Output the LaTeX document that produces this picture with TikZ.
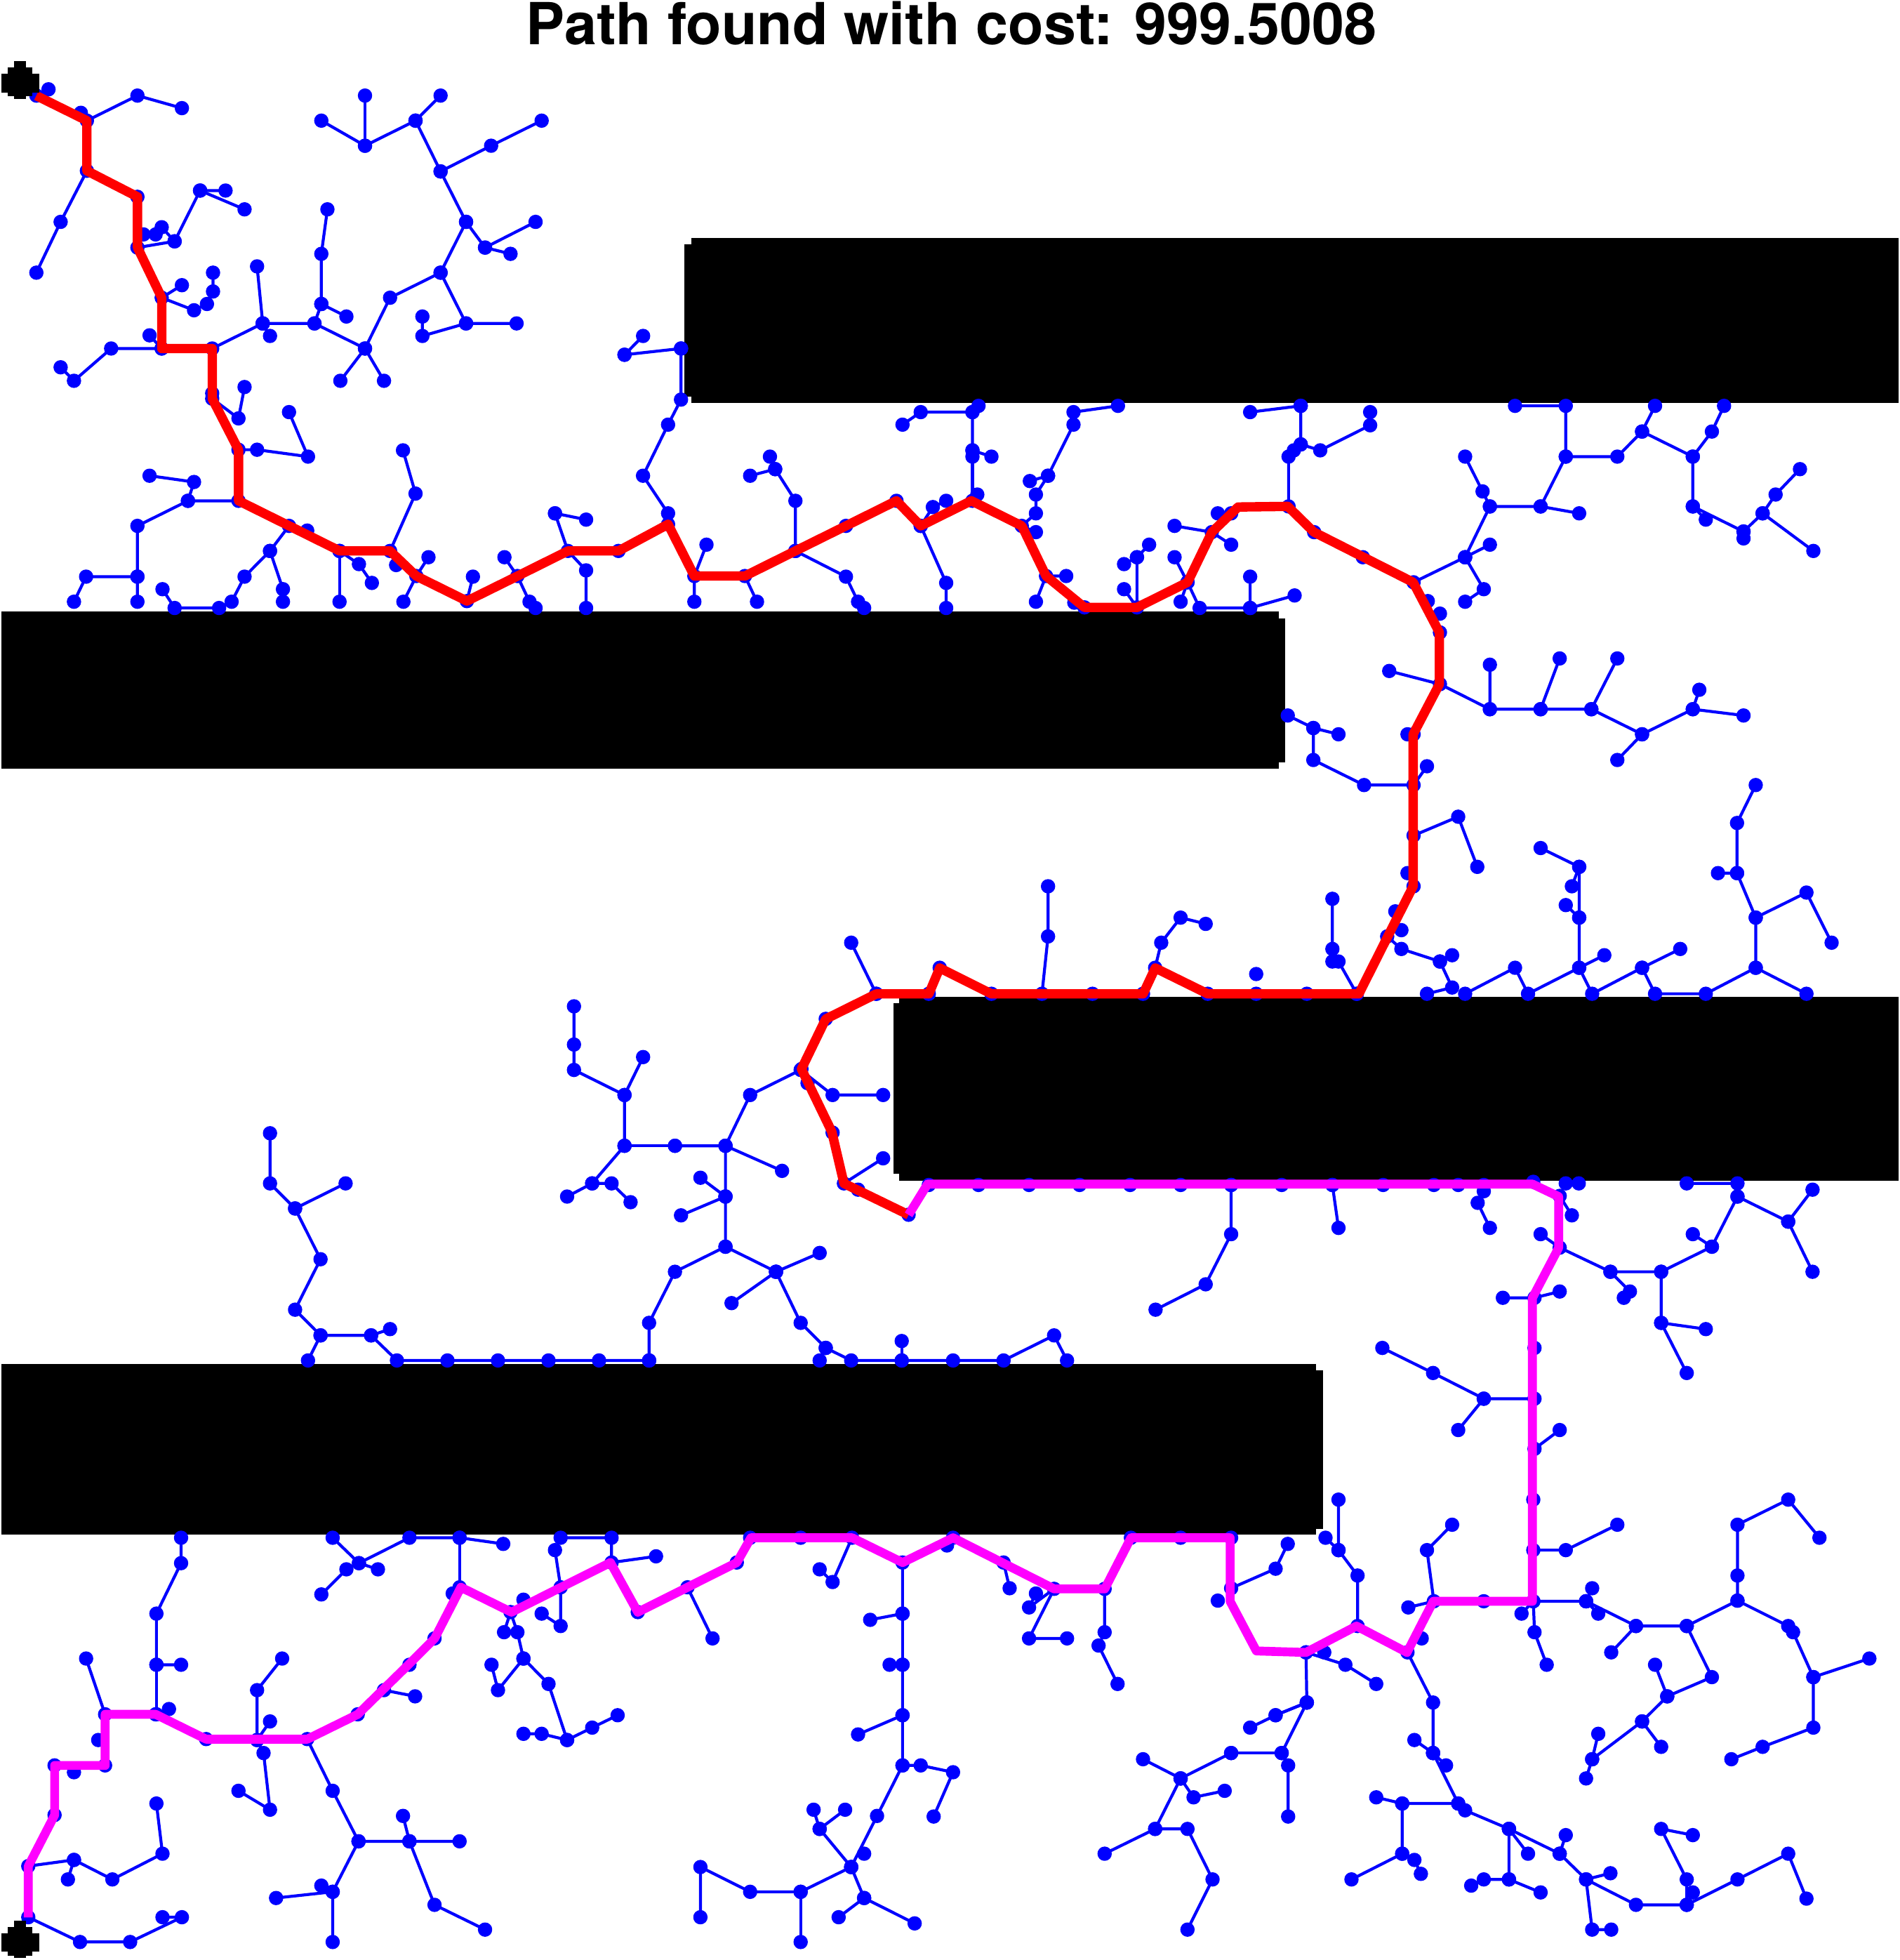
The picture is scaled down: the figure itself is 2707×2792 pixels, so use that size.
\documentclass[tikz,border=0pt]{standalone}
\usepackage{fontspec}
\setmainfont{TeX Gyre Heros}
\definecolor{treeblue}{RGB}{0,0,255}
\definecolor{pathred}{RGB}{255,0,0}
\definecolor{pathmag}{RGB}{255,0,255}
\tikzset{
  treeln/.style={color=treeblue, line width=0.6pt, mark=*, mark size=1.15pt, line join=round},
  redp/.style={draw=pathred, line width=1.9pt, line join=round},
  magp/.style={draw=pathmag, line width=1.8pt, line join=round},
  obst/.style={fill=black, draw=none},
  marker/.style={fill=black, draw=none}
}
\newcommand\tedge[1]{\draw[treeln] plot coordinates {#1};}
\begin{document}
\begin{tikzpicture}[x=0.05mm,y=-0.05mm]
\useasboundingbox (0,0) rectangle (2707,2792);
\fill[white] (0,0) rectangle (2707,2792);
% obstacles (displayed coords)
\begin{scope}[x=0.08905mm,y=-0.08905mm]
\fill[obst] (552.8,190.5) rectangle (1518.5,322.2);
\fill[obst] (547.3,195.5) rectangle (553,317);
\fill[obst] (1,489) rectangle (1023,615);
\fill[obst] (1022,494.5) rectangle (1027.8,609.9);
\fill[obst] (719.4,797.4) rectangle (1518.5,944.1);
\fill[obst] (714.5,802.4) rectangle (720,939);
\fill[obst] (1,1090.7) rectangle (1052.7,1227.3);
\fill[obst] (1052,1095.7) rectangle (1058.2,1223);
\node[font=\fontsize{11.75}{14}\selectfont\bfseries, anchor=base, inner sep=0pt] (title) at (761,35.6) {Path found with cost: 999.5008};
\end{scope}
% ---------- crop 1 (col0,row0)
\begin{scope}[shift={(0,0)},x=0.028795mm,y=-0.022321mm]
\tedge{(120,285)(90,305)}
\tedge{(200,360)}
\tedge{(215,385)(340,305)(450,345)}
\tedge{(215,545)(150,708)(90,870)}
\tedge{(340,790)(432,770)(495,608)(558,608)}
\tedge{(495,608)(605,668)}
\tedge{(432,770)(400,725)}
\tedge{(355,748)} \tedge{(385,748)} \tedge{(340,628)}
\tedge{(450,910)(400,950)(480,990)(512,970)(527,930)(527,870)}
\tedge{(400,1112)(275,1112)(183,1215)(150,1172)}
\tedge{(370,1070)(400,1112)}
\tedge{(525,1112)(650,1032)(778,1032)(795,970)(795,810)(810,668)}
\tedge{(650,1032)(636,850)}
\tedge{(650,1032)(668,1072)}
\tedge{(795,970)(857,1010)}
\tedge{(778,1032)(903,1112)(965,950)(1090,870)(1153,708)(1090,547)(1028,385)(903,465)(795,385)}
\tedge{(903,465)(903,305)}
\tedge{(1028,385)(1090,305)}
\tedge{(1090,547)(1215,465)(1340,385)}
\tedge{(1153,708)(1200,790)(1325,708)}
\tedge{(1200,790)(1263,810)}
\tedge{(1090,870)(1153,1032)(1278,1032)}
\tedge{(1153,1032)(1045,1072)(1045,1010)}
\tedge{(842,1215)(903,1112)(950,1215)}
\tedge{(525,1255)}
\tedge{(525,1272)(590,1335)(605,1235)}
\tedge{(590,1435)(636,1435)(762,1457)(715,1315)}
\tedge{(370,1518)(480,1538)(465,1598)(590,1598)}
\tedge{(997,1437)(1028,1575)(965,1758)}
\tedge{(1545,1132)(1685,1112)}
\tedge{(1545,1132)(1591,1072)}
\end{scope}
% ---------- crop 2 (col1,row0)
\begin{scope}[shift={(900,0)},x=0.028795mm,y=-0.022321mm]
\tedge{(122,1112)(122,1275)(90,1355)(28,1518)(90,1638)(90,1673)}
\tedge{(670,1355)(715,1315)(843,1315)(858,1295)}
\tedge{(843,1315)(843,1437)(890,1457)}
\tedge{(843,1437)(843,1457)(843,1598)}
\tedge{(342,1457)(355,1497)(405,1598)(405,1758)}
\tedge{(293,1518)(355,1497)}
\tedge{(1203,1295)(1093,1315)(1093,1355)(1030,1518)(985,1535)}
\tedge{(1030,1518)(1000,1578)(1000,1638)(965,1678)(1000,1698)}
\tedge{(1530,1315)(1655,1295)}
\end{scope}
% ---------- crop 3 (col2,row0)
\begin{scope}[shift={(1800,0)},x=0.028922mm,y=-0.022321mm]
\tedge{(92,1295)(92,1418)(140,1437)(263,1357)(263,1315)}
\tedge{(92,1418)(75,1437)(62,1457)(62,1616)}
\tedge{(497,1457)(540,1568)(558,1616)(683,1616)(745,1457)(745,1295)(620,1295)}
\tedge{(683,1616)(778,1638)}
\tedge{(745,1457)(872,1457)(933,1377)(965,1295)}
\tedge{(933,1377)(1058,1457)(1105,1377)(1135,1295)}
\tedge{(1058,1457)(1058,1616)(1183,1696)(1183,1718)}
\tedge{(1058,1616)(1090,1658)}
\tedge{(1322,1497)(1262,1578)(1230,1638)(1183,1696)}
\tedge{(1230,1638)(1355,1758)}
\end{scope}
% ---------- crop 4 (col0,row1)
\begin{scope}[shift={(0,700)},x=0.028795mm,y=-0.022321mm]
\tedge{(465,30)(340,110)(340,272)(340,352)}
\tedge{(340,272)(213,272)(183,352)}
\tedge{(402,312)(432,372)(542,372)(573,352)(605,272)(668,190)(715,110)}
\tedge{(668,190)(700,312)(700,352)}
\tedge{(760,125)}
\tedge{(840,190)(840,352)}
\tedge{(840,190)(888,232)(920,292)}
\tedge{(980,235)}
\tedge{(1060,210)(1030,270)(998,352)}
\tedge{(1155,350)(1170,272)}
\tedge{(1248,210)(1280,270)(1310,352)(1325,372)}
\tedge{(1373,70)(1450,90)}
\tedge{(1373,70)(1405,190)(1450,252)(1450,372)}
\tedge{(1530,190)}
\end{scope}
% ---------- crop 5 (col1,row1)
\begin{scope}[shift={(900,700)},x=0.028795mm,y=-0.022321mm]
\tedge{(185,170)(155,270)(155,352)}
\tedge{(280,270)(310,352)}
\tedge{(405,190)(530,272)(560,352)(575,372)}
\tedge{(530,110)} \tedge{(655,30)}
\tedge{(715,110)(745,50)(778,30)}
\tedge{(715,110)(778,292)(778,372)}
\tedge{(855,10)}
\tedge{(1075,270)(1025,270)(1000,352)}
\tedge{(1095,355)} \tedge{(1120,370)}
\tedge{(1218,312)(1250,370)(1250,210)(1280,170)}
\tedge{(1218,232)(1250,210)}
\tedge{(1343,210)(1375,290)(1358,352)}
\tedge{(1375,290)(1405,372)(1530,372)(1530,272)}
\tedge{(1530,372)(1640,332)}
\tedge{(1343,110)(1435,130)(1483,170)}
\tedge{(1450,70)} \tedge{(1483,70)}
\tedge{(1030,1260)(1030,1420)(1015,1603)}
\tedge{(543,1440)(605,1603)}
\tedge{(1420,1380)(1358,1360)(1310,1440)(1295,1520)}
\tedge{(762,1520)} \tedge{(1545,1540)}
\end{scope}
% ---------- crop 6 (col2,row1)
\begin{scope}[shift={(1800,700)},x=0.028922mm,y=-0.022321mm]
\tedge{(558,48)(497,210)(370,290)}
\tedge{(497,210)(558,170)}
\tedge{(497,210)(543,312)(497,352)}
\tedge{(245,210)} \tedge{(125,130)} \tedge{(405,350)} \tedge{(435,390)} \tedge{(435,450)}
\tedge{(310,573)(435,615)(558,695)(558,553)}
\tedge{(558,695)(683,695)(730,533)}
\tedge{(683,695)(808,695)(872,533)}
\tedge{(808,695)(933,775)(872,857)}
\tedge{(933,775)(1058,695)(1074,633)}
\tedge{(1058,695)(1183,715)}
\tedge{(355,775)} \tedge{(370,775)}
\tedge{(60,715)(123,755)(185,775)}
\tedge{(123,755)(123,857)(248,937)(370,937)(403,877)}
\tedge{(370,1098)(480,1038)(527,1198)}
\tedge{(355,1218)} \tedge{(370,1260)}
\tedge{(683,1138)(778,1198)(760,1260)}
\tedge{(778,1198)(778,1360)(745,1320)}
\tedge{(778,1360)(778,1520)(840,1480)}
\tedge{(1027,1460)(933,1520)(810,1603)(778,1520)(652,1603)(620,1520)(497,1603)}
\tedge{(933,1520)(965,1603)(1090,1603)(1213,1520)(1338,1603)}
\tedge{(1213,1520)(1213,1360)(1338,1280)(1400,1440)}
\tedge{(1213,1360)(1167,1218)(1120,1218)}
\tedge{(1167,1218)(1167,1058)(1213,937)}
\tedge{(170,1300)(170,1460)(185,1500)(230,1603)}
\tedge{(170,1500)}
\tedge{(325,1340)} \tedge{(340,1400)}
\tedge{(305,1420)(340,1460)(435,1500)(465,1480)}
\tedge{(435,1500)(465,1583)(403,1603)}
\end{scope}
% ---------- crop 7 (col0,row2)
\begin{scope}[shift={(0,1400)},x=0.028795mm,y=-0.022321mm]
\tedge{(668,480)(668,640)(730,720)(855,640)}
\tedge{(730,720)(793,882)(730,1043)(793,1125)(918,1125)(965,1105)}
\tedge{(793,1125)(762,1205)}
\tedge{(918,1125)(982,1205)(1107,1205)(1232,1205)(1357,1205)(1482,1205)(1606,1205)}
\tedge{(1420,75)(1420,197)(1420,278)(1545,358)(1545,520)(1465,640)(1403,682)}
\tedge{(1465,640)(1513,640)(1560,700)}
\tedge{(1545,358)(1591,237)}
\tedge{(1545,520)(1670,520)}
\end{scope}
% ---------- crop 8 (col1,row2)
\begin{scope}[shift={(900,1400)},x=0.028795mm,y=-0.022321mm]
\tedge{(107,520)(232,520)(293,358)(418,278)(497,358)(622,358)}
\tedge{(232,520)(372,600)}
\tedge{(232,520)(232,682)(170,622)}
\tedge{(232,682)(122,742)}
\tedge{(232,682)(232,842)(107,922)(43,1085)(43,1205)}
\tedge{(232,842)(357,922)(465,862)}
\tedge{(357,922)(247,1022)}
\tedge{(357,922)(418,1085)(480,1165)(543,1205)(668,1205)(795,1205)(920,1205)(1045,1125)(1077,1205)}
\tedge{(668,1205)(668,1143)}
\tedge{(480,1165)(465,1205)}
\tedge{(435,320)} \tedge{(497,478)}
\tedge{(525,640)(622,560)} \tedge{(560,660)} \tedge{(685,740)}
\tedge{(735,645)(858,645)(983,645)(1108,645)(1233,645)(1358,645)(1483,645)}
\tedge{(1483,645)(1483,802)(1420,962)(1296,1043)}
\tedge{(605,35)} \tedge{(735,35)} \tedge{(890,35)} \tedge{(1140,35)} \tedge{(1265,35)} \tedge{(1425,35)} \tedge{(1545,35)}
\tedge{(480,115)} \tedge{(420,275)}
\end{scope}
% ---------- crop 9 (col2,row2)
\begin{scope}[shift={(1800,1400)},x=0.028922mm,y=-0.022321mm]
\tedge{(107,35)} \tedge{(230,35)}
\tedge{(45,645)(170,645)(295,645)(420,645)(480,645)(543,645)(665,635)}
\tedge{(170,645)(185,782)}
\tedge{(543,665)(528,702)(558,782)}
\tedge{(745,640)} \tedge{(777,640)}
\tedge{(730,680)(760,742)}
\tedge{(683,802)(730,845)(855,922)(980,922)(1105,842)(1168,682)(1168,640)(1043,640)}
\tedge{(855,922)(903,985)(888,1005)}
\tedge{(980,922)(980,1085)(1090,1105)}
\tedge{(980,1085)(1043,1245)}
\tedge{(1105,842)(1058,802)}
\tedge{(1168,682)(1293,762)(1353,660)}
\tedge{(1293,762)(1353,922)}
\tedge{(590,1005)(668,1005)(730,985)}
\tedge{(668,1165)}
\tedge{(293,1165)(418,1245)(543,1327)(668,1327)}
\tedge{(543,1327)(480,1427)}
\tedge{(668,1487)(730,1427)}
\end{scope}
% ---------- crop 10 (col0,row3)
\begin{scope}[shift={(0,2100)},x=0.028795mm,y=-0.022066mm]
\tedge{(448,205)(448,287)(387,450)(387,615)(448,615)}
\tedge{(387,615)(387,775)} \tedge{(418,758)}
\tedge{(213,595)(260,775)} \tedge{(243,858)} \tedge{(183,962)} \tedge{(135,1100)} \tedge{(135,940)} \tedge{(260,940)}
\tedge{(823,205)(888,287)(1013,205)(1137,205)(1245,225)}
\tedge{(1137,205)(1137,365)} \tedge{(1120,385)}
\tedge{(935,307)(888,287)(857,307)(795,388)}
\tedge{(1387,205)(1513,205)(1513,285)(1623,265)}
\tedge{(1373,245)(1387,365)(1387,490)(1340,450)}
\tedge{(1247,510)(1263,445)(1280,510)(1295,595)(1232,697)(1216,615)}
\tedge{(1295,595)(1357,677)(1403,858)(1465,818)(1528,778)}
\tedge{(1403,858)(1340,838)(1295,838)}
\tedge{(1295,405)}
\tedge{(1075,530)} \tedge{(1013,615)}
\tedge{(950,697)(1027,717)}
\tedge{(885,775)}
\tedge{(760,855)(823,1022)(887,1185)(1013,1185)(1137,1185)}
\tedge{(1013,1185)(997,1103)}
\tedge{(1013,1185)(1075,1390)(1200,1470)}
\tedge{(887,1185)(823,1348)(683,1368)}
\tedge{(795,1328)(823,1348)(823,1510)}
\tedge{(698,595)(636,697)(636,858)(652,900)(668,1083)(590,1022)}
\tedge{(636,858)(668,798)}
\tedge{(510,855)}
\tedge{(70,1265)(183,1245)(278,1308)(402,1225)(387,1063)}
\tedge{(183,1245)(168,1308)}
\tedge{(70,1430)(198,1510)(322,1510)(450,1430)(402,1430)}
\tedge{(385,775)}
\end{scope}
% ---------- crop 11 (col1,row3)
\begin{scope}[shift={(900,2100)},x=0.028795mm,y=-0.022066mm]
\tedge{(293,205)} \tedge{(418,205)} \tedge{(795,205)} \tedge{(1235,205)} \tedge{(1358,205)} \tedge{(1483,205)} \tedge{(260,285)}
\tedge{(138,365)(200,530)}
\tedge{(465,307)(497,348)(545,205)}
\tedge{(670,285)(670,450)(590,470)}
\tedge{(670,450)(670,615)(638,615)}
\tedge{(670,615)(670,778)(560,840)}
\tedge{(670,778)(670,940)(715,940)(795,962)(747,1105)}
\tedge{(670,940)(607,1103)(543,1268)(465,1145)(450,1083)}
\tedge{(465,1145)(528,1083)}
\tedge{(575,1225)}
\tedge{(543,1268)(418,1348)(293,1348)(170,1268)(170,1430)}
\tedge{(418,1348)(418,1510)}
\tedge{(543,1268)(575,1368)(700,1450)}
\tedge{(575,1368)(512,1430)}
\tedge{(780,230)}
\tedge{(920,285)(935,368)}
\tedge{(1000,385)(983,430)(1045,370)(983,530)(1077,530)}
\tedge{(1170,370)(1170,510)(1155,553)(1202,677)}
\tedge{(1483,368)(1593,305)(1623,225)}
\tedge{(1450,408)}
\tedge{(1530,818)(1593,778)(1670,737)}
\tedge{(1483,900)(1608,900)}
\tedge{(1483,900)(1358,982)(1265,920)}
\tedge{(1358,982)(1390,1043)(1467,1022)}
\tedge{(1358,982)(1295,1145)(1375,1145)(1437,1308)(1375,1470)}
\tedge{(1295,1145)(1170,1225)}
\tedge{(15,445)}
\end{scope}
% ---------- crop 12 (col2,row3)
\begin{scope}[shift={(1800,2100)},x=0.028922mm,y=-0.022066mm]
\tedge{(185,82)(185,245)(153,205)}
\tedge{(185,245)(232,327)(232,490)}
\tedge{(150,575)} \tedge{(390,530)}
\tedge{(105,575)(202,615)(278,677)}
\tedge{(105,575)(107,737)(30,778)}
\tedge{(107,737)(45,900)(61,940)(61,1105)}
\tedge{(355,575)(418,737)(418,900)(372,858)}
\tedge{(418,900)(450,940)}
\tedge{(418,900)(480,1063)(497,1085)(605,1145)(730,1225)(795,1308)(918,1390)(1043,1390)(1168,1308)(1293,1225)(1338,1370)}
\tedge{(480,1063)(342,1063)(278,1043)}
\tedge{(342,1063)(342,1225)(217,1308)}
\tedge{(342,1225)(372,1245)(388,1290)}
\tedge{(605,1145)(652,1225)}
\tedge{(605,1145)(605,1308)(543,1308)(512,1328)}
\tedge{(605,1308)(683,1350)}
\tedge{(730,1225)(745,1165)}
\tedge{(855,1288)(795,1308)(810,1470)(857,1470)}
\tedge{(1043,1390)(1043,1308)(980,1145)(1058,1165)}
\tedge{(1058,1350)}
\tedge{(465,163)(403,245)(420,410)(357,430)}
\tedge{(543,410)}
\tedge{(636,450)(665,410)(668,510)(698,615)}
\tedge{(665,410)(795,410)(810,368)}
\tedge{(795,410)(825,450)}
\tedge{(795,410)(918,490)(1043,490)(1168,408)(1168,327)(1168,163)(1293,82)(1370,205)}
\tedge{(918,490)(857,575)}
\tedge{(1043,490)(1105,655)(995,717)(965,615)}
\tedge{(995,717)(933,798)(980,880)}
\tedge{(933,798)(810,920)(825,838)}
\tedge{(810,920)(795,982)}
\tedge{(1168,408)(1293,490)(1305,510)(1355,655)(1493,595)}
\tedge{(1355,655)(1355,818)(1230,880)(1153,920)}
\tedge{(665,245)(745,245)(872,163)}
\tedge{(665,82)}
\end{scope}
% ---------- paths and markers (displayed coords)
\begin{scope}[x=0.08905mm,y=-0.08905mm]
\draw[redp] plot coordinates {(29,76.5)(69.5,96.5)(69.5,136.6)(110,157.4)(110,198)(129.4,238.2)(129.4,278.8)(169.8,278.8)(169.8,318.9)(190.8,359.8)(190.8,400.5)(271.7,440.6)(312,440.6)(333,460.7)(373.5,480.7)(414,460.7)(454.4,440.6)(494.8,440.6)(534.4,419.3)(555.4,460.7)(595.9,460.7)(636.3,440.6)(676.7,420.6)(717.1,400.5)(736.5,420.6)(777,400.5)(817.4,420.6)(836.8,460.7)(867.5,485.8)(909.6,485.8)(950,465.7)(969.4,425.6)(990.4,405.5)(1030.1,405)(1051.1,425.6)(1130.4,465.7)(1151.4,505.8)(1151.4,547.2)(1130.4,587.3)(1130.4,708.9)(1112.6,744)(1087,794.9)(966.2,794.9)(924.1,774.2)(914.4,794.9)(793.1,794.9)(751.7,774.2)(743,794.9)(701,794.9)(660.5,815)(641.1,855)(665.4,905.2)(675.1,946.5)(726.8,971.6)};
\draw[magp] plot coordinates {(726.8,971.6)(742,947)(1225.8,947)(1246.8,957)(1246.8,998)(1225.8,1038.1)(1225.8,1280.7)(1146.5,1280.7)(1125.5,1321.6)(1085.1,1300.5)(1044.7,1321.6)(1005,1320.4)(984,1280.7)(984,1229.9)(904.7,1229.9)(883.7,1270.8)(843.3,1270.8)(762.4,1229.9)(722,1249.7)(681.6,1229.9)(600.7,1229.9)(589.4,1249.7)(510.2,1289.4)(488.3,1249.7)(409.1,1289.4)(368.7,1269.5)(347.7,1310.4)(326.6,1331.5)(286.2,1371.1)(245.8,1391)(164.9,1391)(124.5,1371.1)(84.1,1371.1)(84.1,1412)(43.7,1412)(43.7,1451.7)(22.6,1492.6)(22.6,1533.5)};
% start marker
\fill[marker] (11.3,48.9) rectangle (21,79);
\fill[marker] (1,59) rectangle (31.4,74);
\fill[marker] (6,54) rectangle (26,77);
% goal marker
\fill[marker] (11.3,1535.9) rectangle (21,1566);
\fill[marker] (1,1546) rectangle (31.4,1561);
\fill[marker] (6,1541) rectangle (26,1564);
\end{scope}
\end{tikzpicture}
\end{document}
